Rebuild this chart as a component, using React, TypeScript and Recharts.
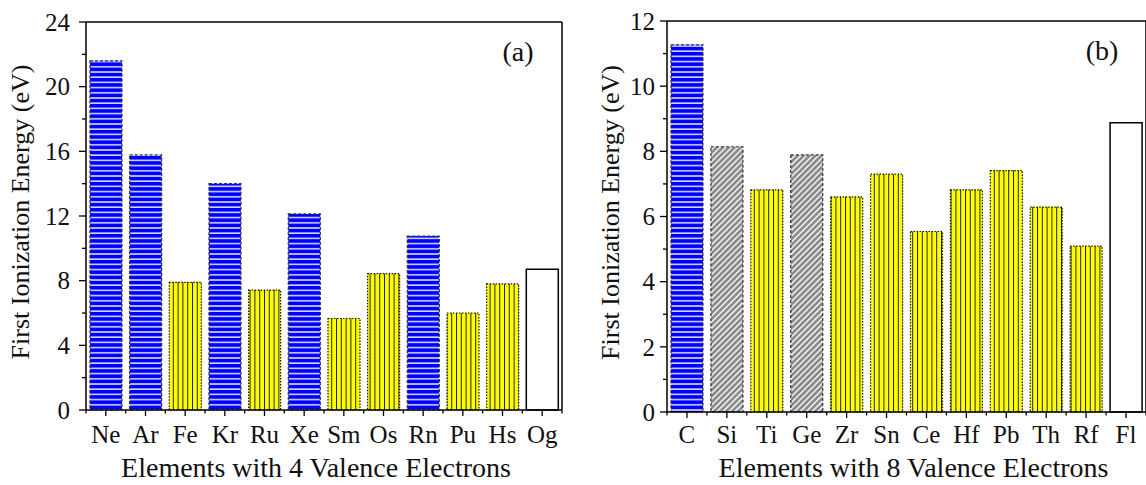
import React from 'react'
import { BarChart, Bar, XAxis, YAxis, Cell } from 'recharts'

// panel (a): elements with 4 valence electrons
const elements4 = ['Ne', 'Ar', 'Fe', 'Kr', 'Ru', 'Xe', 'Sm', 'Os', 'Rn', 'Pu', 'Hs', 'Og']
const energy4 = [21.6, 15.78, 7.9, 14.0, 7.42, 12.13, 5.66, 8.43, 10.76, 6.0, 7.8, 8.7]
const group4 = ['noble', 'noble', 'metal', 'noble', 'metal', 'noble', 'metal', 'metal', 'noble', 'metal', 'metal', 'open']
const majors4 = [0, 4, 8, 12, 16, 20, 24]
const minors4 = [2, 6, 10, 14, 18, 22]

// panel (b): elements with 8 valence electrons
const elements8 = ['C', 'Si', 'Ti', 'Ge', 'Zr', 'Sn', 'Ce', 'Hf', 'Pb', 'Th', 'Rf', 'Fl']
const energy8 = [11.27, 8.14, 6.82, 7.89, 6.6, 7.3, 5.54, 6.82, 7.41, 6.29, 5.09, 8.88]
const group8 = ['noble', 'semi', 'metal', 'semi', 'metal', 'metal', 'metal', 'metal', 'metal', 'metal', 'metal', 'open']
const majors8 = [0, 2, 4, 6, 8, 10, 12]
const minors8 = [1, 3, 5, 7, 9, 11]

const FONT = "'Liberation Serif', 'Times New Roman', serif"
const H = 485
const AXIS_W = 86

const barStyle = (pid: string, g: string) => {
  if (g === 'noble') return { fill: `url(#${pid}-h)`, stroke: '#333', strokeDasharray: '3 2', strokeWidth: 1.2 }
  if (g === 'metal') return { fill: `url(#${pid}-v)`, stroke: '#111', strokeDasharray: '1.5 1.5', strokeWidth: 1.2 }
  if (g === 'semi') return { fill: `url(#${pid}-d)`, stroke: '#333', strokeDasharray: '3 2', strokeWidth: 1.2 }
  return { fill: '#fff', stroke: '#000', strokeWidth: 1.5 }
}

interface PanelProps {
  pid: string
  names: string[]
  values: number[]
  groups: string[]
  yMax: number
  majors: number[]
  minors: number[]
  width: number
  marginRight: number
  marginTop: number
  xHeight: number
  tag: string
  xTitle: string
  xTitleDx: number
  yTitleX: number
  labelGap: number
  tickBaseline: number
}

function Panel(p: PanelProps) {
  const data = p.names.map((name, i) => ({ name, value: p.values[i], group: p.groups[i] }))
  const plotW = p.width - p.marginRight - AXIS_W - 1
  const plotTop = p.marginTop + 1
  const plotBottom = H - p.xHeight
  const band = plotW / p.names.length
  const ticks = [...p.majors, ...p.minors].sort((a, b) => a - b)

  const YTick = (t: any) => {
    const major = p.majors.includes(t.payload.value)
    return (
      <g>
        <line x1={t.x - (major ? 7 : 4)} x2={t.x} y1={t.y} y2={t.y} stroke="#000" strokeWidth={1.3} />
        {major && (
          <text x={t.x - p.labelGap} y={t.y} dy="0.35em" textAnchor="end" fontSize={25} fontFamily={FONT} fill="#111">
            {t.payload.value}
          </text>
        )}
      </g>
    )
  }

  const XTick = (t: any) => (
    <g>
      <line x1={t.x} x2={t.x} y1={t.y} y2={t.y + 6} stroke="#000" strokeWidth={1.3} />
      <line x1={t.x - band / 2} x2={t.x - band / 2} y1={t.y} y2={t.y + 3.5} stroke="#000" strokeWidth={1.3} />
      {t.index === p.names.length - 1 && (
        <line x1={t.x + band / 2} x2={t.x + band / 2} y1={t.y} y2={t.y + 3.5} stroke="#000" strokeWidth={1.3} />
      )}
      <text x={t.x} y={t.y + p.tickBaseline} textAnchor="middle" fontSize={25} fontFamily={FONT} fill="#111">
        {t.payload.value}
      </text>
    </g>
  )

  const xTitle = () => (
    <text x={AXIS_W + plotW / 2 + p.xTitleDx} y={477} textAnchor="middle" fontSize={28} fontFamily={FONT} fill="#111">
      {p.xTitle}
    </text>
  )

  const yTitle = () => {
    const cy = (plotTop + plotBottom) / 2 - 4
    return (
      <text x={p.yTitleX} y={cy} dy="0.28em" transform={`rotate(-90, ${p.yTitleX}, ${cy})`} textAnchor="middle" fontSize={26} fontFamily={FONT} fill="#111">
        First Ionization Energy (eV)
      </text>
    )
  }

  const tagLabel = () => (
    <text x={AXIS_W + plotW - 44} y={plotTop + 39} textAnchor="middle" fontSize={28} fontFamily={FONT} fill="#111">
      {p.tag}
    </text>
  )

  const axisLine = { stroke: '#000', strokeWidth: 1.5 }

  return (
    <BarChart width={p.width} height={H} data={data} margin={{ top: p.marginTop, right: p.marginRight, bottom: 0, left: 0 }}>
      <defs>
        <pattern id={`${p.pid}-h`} width={6} height={5.2} patternUnits="userSpaceOnUse">
          <rect width={6} height={5.2} fill="#0000ff" />
          <rect y={3.7} width={6} height={1.4} fill="#eef0ff" />
        </pattern>
        <pattern id={`${p.pid}-v`} width={4.8} height={6} patternUnits="userSpaceOnUse">
          <rect width={4.8} height={6} fill="#ffff00" />
          <rect width={1} height={6} fill="#222" />
        </pattern>
        <pattern id={`${p.pid}-d`} width={4.2} height={6} patternUnits="userSpaceOnUse" patternTransform="rotate(45)">
          <rect width={4.2} height={6} fill="#8a8a8a" />
          <rect width={1.5} height={6} fill="#f4f4f4" />
        </pattern>
      </defs>
      <Bar dataKey="value" isAnimationActive={false}>
        {data.map((d, i) => (
          <Cell key={i} {...barStyle(p.pid, d.group)} />
        ))}
      </Bar>
      <XAxis dataKey="name" height={p.xHeight} interval={0} tickSize={0} tickMargin={0} tickLine={false} axisLine={axisLine} tick={XTick} label={xTitle} />
      <YAxis type="number" domain={[0, p.yMax]} ticks={ticks} interval={0} width={AXIS_W} tickSize={0} tickMargin={0} tickLine={false} axisLine={axisLine} tick={YTick} label={yTitle} />
      <XAxis xAxisId="frameTop" orientation="top" type="number" domain={[0, 1]} height={1} tick={false} tickLine={false} axisLine={axisLine} label={tagLabel} />
      <YAxis yAxisId="frameRight" orientation="right" type="number" domain={[0, 1]} width={1} tick={false} tickLine={false} axisLine={axisLine} />
    </BarChart>
  )
}

export default function App() {
  return (
    <div style={{ position: 'absolute', left: 0, top: 0, width: 1146, height: H, overflow: 'hidden', background: '#fff' }}>
      <div style={{ position: 'absolute', left: 0, top: 0 }}>
        <Panel pid="pa" names={elements4} values={energy4} groups={group4} yMax={24} majors={majors4} minors={minors4}
          width={570} marginRight={7} marginTop={21} xHeight={75} tag="(a)" xTitle="Elements with 4 Valence Electrons"
          xTitleDx={-8} yTitleX={22} labelGap={16} tickBaseline={33} />
      </div>
      <div style={{ position: 'absolute', left: 581, top: 0 }}>
        <Panel pid="pb" names={elements8} values={energy8} groups={group8} yMax={12} majors={majors8} minors={minors8}
          width={566} marginRight={0} marginTop={20} xHeight={73} tag="(b)" xTitle="Elements with 8 Valence Electrons"
          xTitleDx={7} yTitleX={31} labelGap={12} tickBaseline={31} />
      </div>
    </div>
  )
}
